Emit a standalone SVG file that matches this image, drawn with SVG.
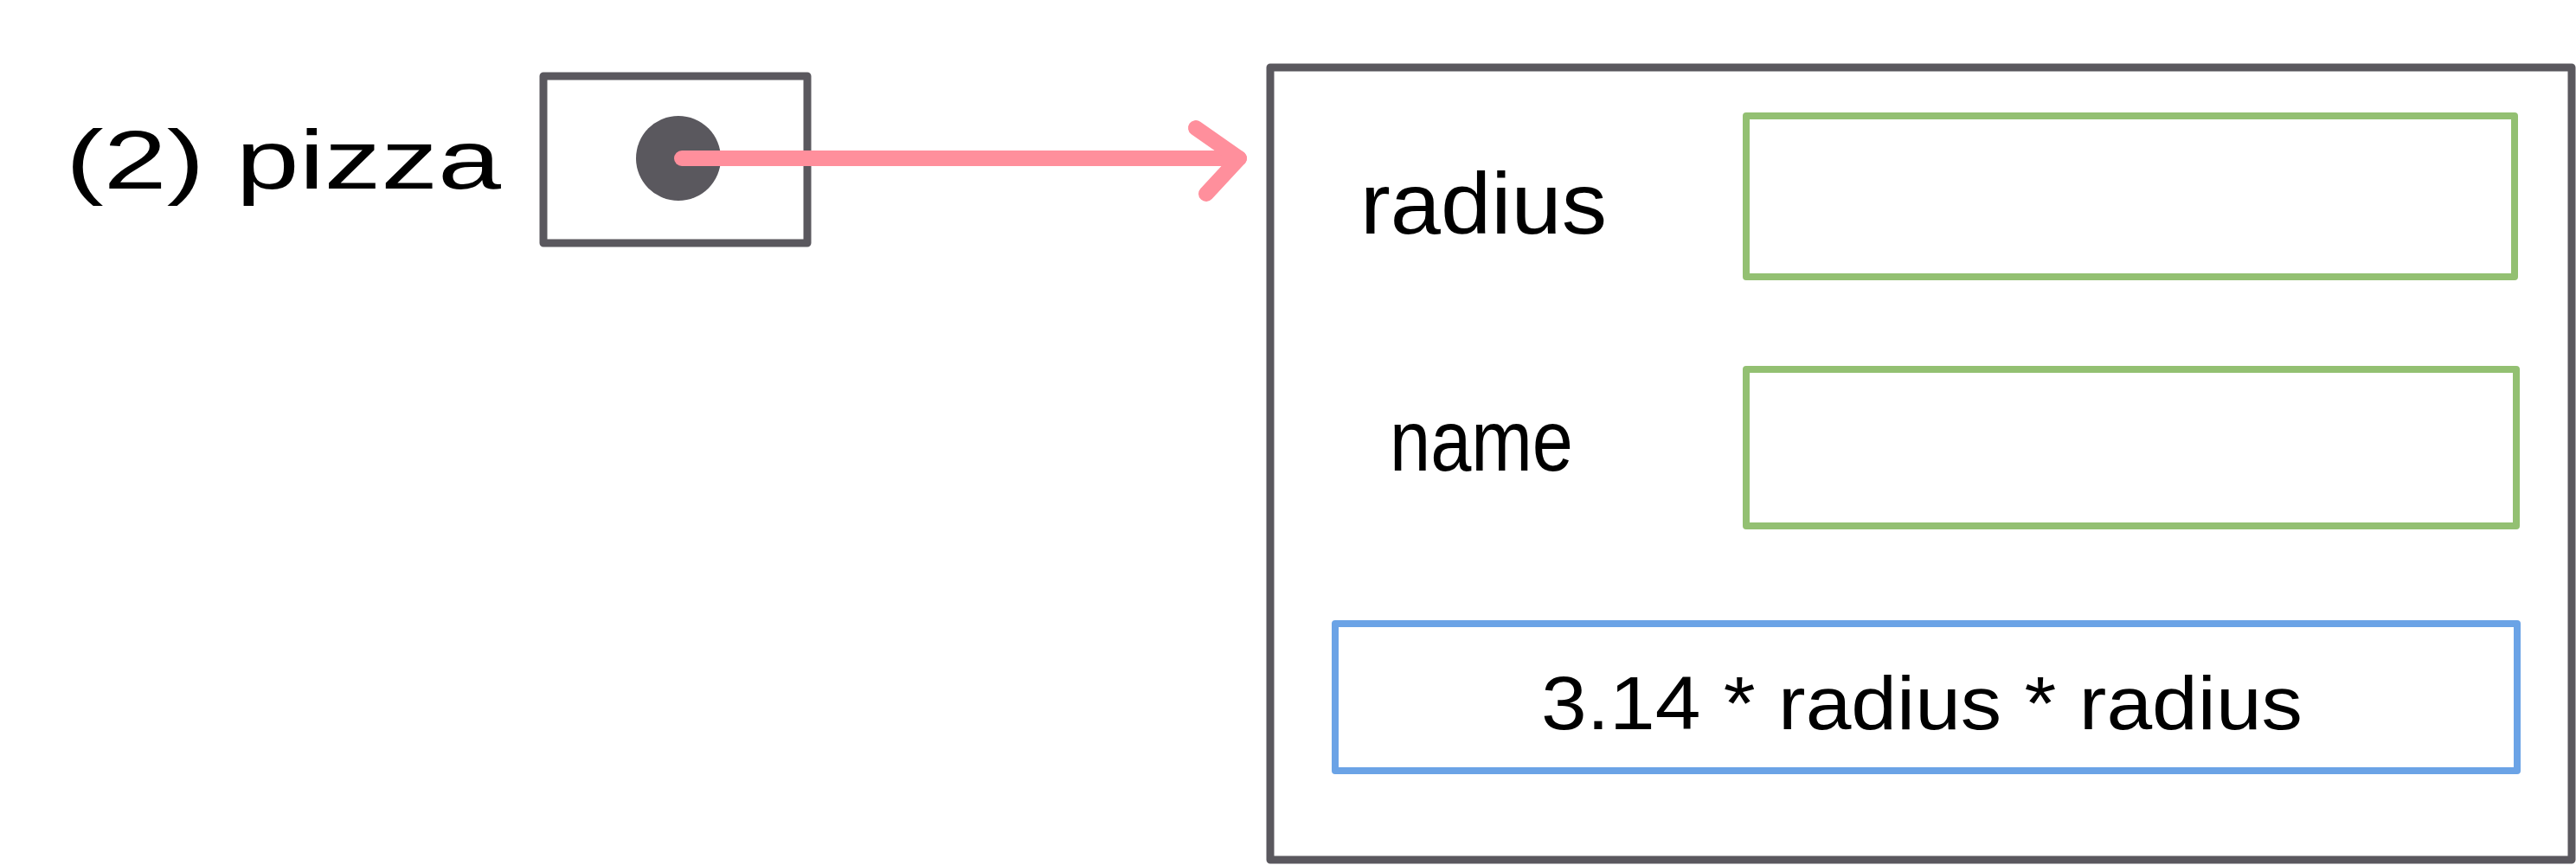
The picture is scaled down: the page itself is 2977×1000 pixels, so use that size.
<svg xmlns="http://www.w3.org/2000/svg" width="2977" height="1000" viewBox="0 0 2977 1000">
<style>
.lbl{font-family:"Liberation Sans",Arial,sans-serif;fill:#000;}
.box{fill:none;stroke:#5a585e;stroke-width:9;stroke-linejoin:round;}
.field{fill:none;stroke:#93c072;stroke-width:8;stroke-linejoin:round;}
.expr{fill:none;stroke:#6ba3e6;stroke-width:8;stroke-linejoin:round;}
.conn{fill:none;stroke:#ff8f9c;stroke-width:18;stroke-linecap:round;stroke-linejoin:round;}
</style>
<defs>
<marker id="head" markerUnits="userSpaceOnUse" viewBox="-80 -60 100 120" markerWidth="100" markerHeight="120" refX="0" refY="0" orient="auto" overflow="visible">
<path d="M-50,-35 L0,0 L-38,41" class="conn"/>
</marker>
</defs>
<rect width="2977" height="1000" fill="#fff"/>
<g id="pizza-label">
<text class="lbl" x="76" y="218" font-size="96" textLength="503" lengthAdjust="spacingAndGlyphs">(2) pizza</text>
</g>
<g id="pizza-ref">
<rect class="box" x="628" y="88" width="305" height="193"/>
<circle cx="784" cy="183" r="49" fill="#5a585e"/>
</g>
<g id="object">
<rect class="box" x="1468" y="78" width="1504" height="916"/>
</g>
<g id="radius-field">
<text class="lbl" x="1572" y="270" font-size="100" textLength="285" lengthAdjust="spacingAndGlyphs">radius</text>
<rect class="field" x="2018" y="134" width="888" height="186"/>
</g>
<g id="name-field">
<text class="lbl" x="1606" y="544" font-size="100" textLength="212" lengthAdjust="spacingAndGlyphs">name</text>
<rect class="field" x="2018" y="427" width="890" height="181"/>
</g>
<g id="area-method">
<rect class="expr" x="1543" y="721" width="1366" height="170"/>
<text class="lbl" x="1781" y="843" font-size="88" textLength="880" lengthAdjust="spacingAndGlyphs">3.14 * radius * radius</text>
</g>
<g id="connectors">
<line class="conn" x1="788" y1="183" x2="1432" y2="183" marker-end="url(#head)"/>
</g>
</svg>
